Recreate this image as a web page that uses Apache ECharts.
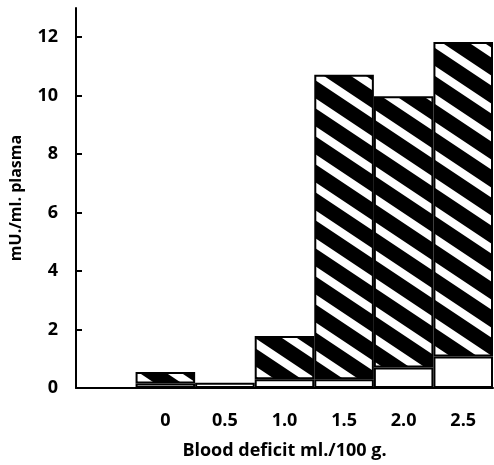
<!DOCTYPE html>
<html>
<head>
<meta charset="utf-8">
<script src="https://cdn.jsdelivr.net/npm/echarts@6/dist/echarts.min.js"></script>
<style>
  html, body { margin: 0; padding: 0; background: #fff; }
  #main { width: 494px; height: 465px; }
</style>
</head>
<body>
<div id="main"></div>
<script>
// x categories (first slot is left empty, as in the figure)
var categories = ['', '0', '0.5', '1.0', '1.5', '2.0', '2.5'];
// white (lower) part of each bar
var lowerVals = [null, 0.15, 0.18, 0.3, 0.3, 0.7, 1.08];
// total bar height (top of hatched part)
var totalVals = [null, 0.55, 0.18, 1.78, 10.72, 9.98, 11.84];
var yTicks = [0, 2, 4, 6, 8, 10, 12];

// hatched part = total - lower
var upperVals = totalVals.map(function (t, i) {
  if (t == null) return null;
  var d = +(t - lowerVals[i]).toFixed(2);
  return d > 0 ? d : null;
});

// black tile with white diagonal stripes
function makeHatch() {
  var w = 42, h = 28, band = 10;
  var c = document.createElement('canvas');
  c.width = w; c.height = h;
  var ctx = c.getContext('2d');
  ctx.fillStyle = '#000';
  ctx.fillRect(0, 0, w, h);
  ctx.fillStyle = '#fff';
  var s = h / w;
  for (var k = -2; k <= 2; k++) {
    var y0 = k * h;
    ctx.beginPath();
    ctx.moveTo(0, y0);
    ctx.lineTo(w, y0 + s * w);
    ctx.lineTo(w, y0 + s * w + band);
    ctx.lineTo(0, y0 + band);
    ctx.closePath();
    ctx.fill();
  }
  return c;
}

var font = '"Open Sans", Lato, sans-serif';
var chart = echarts.init(document.getElementById('main'));
chart.setOption({
  animation: false,
  backgroundColor: '#fff',
  grid: { left: 70, right: 1, top: 8, bottom: 64 },
  xAxis: {
    type: 'category',
    data: categories,
    name: 'Blood deficit ml./100 g.',
    nameLocation: 'middle',
    nameGap: 54,
    nameTextStyle: { color: '#000', fontFamily: font, fontWeight: 'bold', fontSize: 18 },
    axisLine: { lineStyle: { color: '#000', width: 2 } },
    axisTick: { show: false },
    axisLabel: { color: '#000', fontFamily: font, fontWeight: 'bold', fontSize: 18, margin: 24 },
    splitLine: { show: false }
  },
  yAxis: {
    type: 'value',
    min: 0,
    max: 13,
    interval: 2,
    name: 'mU./ml. plasma',
    nameLocation: 'middle',
    nameGap: 52,
    nameRotate: 90,
    nameTextStyle: { color: '#000', fontFamily: font, fontWeight: 'bold', fontSize: 16 },
    axisLine: { show: true, lineStyle: { color: '#000', width: 2 } },
    axisTick: { show: true, inside: true, length: 6, lineStyle: { color: '#000', width: 2 }, customValues: yTicks },
    axisLabel: { color: '#000', fontFamily: font, fontWeight: 'bold', fontSize: 18, margin: 18, customValues: yTicks },
    splitLine: { show: false }
  },
  series: [
    {
      type: 'bar',
      stack: 'a',
      data: lowerVals,
      barCategoryGap: '0%',
      itemStyle: { color: '#fff', borderColor: '#000', borderWidth: 2 }
    },
    {
      type: 'bar',
      stack: 'a',
      data: upperVals,
      barCategoryGap: '0%',
      itemStyle: { color: { image: makeHatch(), repeat: 'repeat' }, borderColor: '#000', borderWidth: 2 }
    }
  ]
});
</script>
</body>
</html>
